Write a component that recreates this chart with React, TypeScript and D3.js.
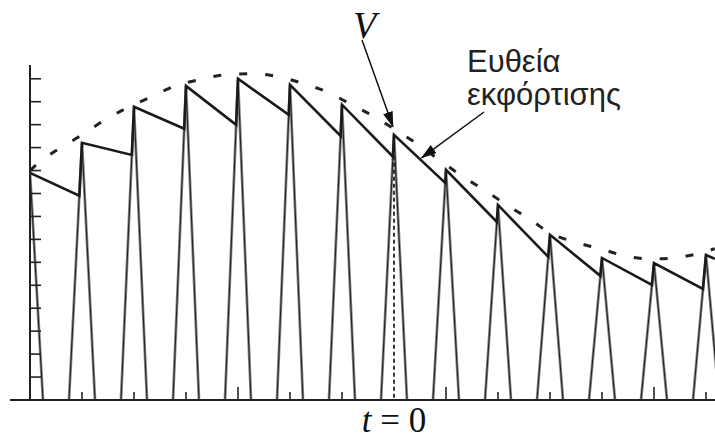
import React from 'react'
import * as d3 from 'd3'

// pulse number (one per period) and the capacitor voltage
const pulses = [0, 1, 2, 3, 4, 5, 6, 7, 8, 9, 10, 11, 12, 13]
const peakValues = [9.9, 11.21, 12.78, 13.69, 14.0, 13.74, 12.87, 11.56, 10.03, 8.5, 7.2, 6.19, 5.97, 6.32]
// value the discharge line reaches just before pulse i starts charging again
const troughValues = [null, 8.9, 10.68, 11.82, 11.99, 12.43, 11.51, 10.6, 9.46, 7.76, 6.24, 5.41, 5.02, 4.84]
const tailPoint = [13.17, 6.15]

// dashed envelope (input peaks)
const envelopeT = [0, 0.12, 0.52, 0.94, 1.38, 1.83, 2.29, 2.75, 3.25, 3.75, 4.27, 4.77, 5.27, 5.75, 6.19, 6.63, 7.08, 7.5, 7.92, 8.33, 8.79, 9.17, 9.63, 10.0, 10.54, 11.04, 11.52, 12.0, 12.54, 13.04, 13.17]
const envelopeV = [10.0, 10.25, 10.9, 11.47, 12.12, 12.69, 13.17, 13.65, 13.96, 14.17, 14.22, 14.09, 13.78, 13.39, 12.86, 12.34, 11.69, 11.08, 10.38, 9.73, 9.07, 8.5, 7.85, 7.28, 6.85, 6.54, 6.24, 6.15, 6.24, 6.5, 6.6]

const yTicks = [1, 2, 3, 4, 5, 6, 7, 8, 9, 10, 11, 12, 13, 14]
const xTicks = [1, 2, 3, 4, 5, 6, 8, 9, 10, 11, 12, 13]
const majorTicks = [4, 8, 12]
const zeroPulse = 7

const W = 715
const H = 439
const halfBase = 0.25

export default function App() {
  const x = d3.scaleLinear().domain([0, 13]).range([30, 706])
  const y = d3.scaleLinear().domain([0, 14.6]).range([400, 65])
  const line = d3.line<number[]>().x(d => x(d[0])).y(d => y(d[1]))

  // sawtooth: peak -> linear discharge -> meets rising edge of next pulse
  const saw: number[][] = []
  pulses.forEach((p, i) => {
    const t = troughValues[i]
    if (t != null) saw.push([p - halfBase * (1 - t / peakValues[i]), t])
    saw.push([p, peakValues[i]])
  })
  saw.push(tailPoint)

  const envelope = envelopeT.map((t, i) => [t, envelopeV[i]])
  const envPath = d3.line<number[]>().x(d => x(d[0])).y(d => y(d[1])).curve(d3.curveMonotoneX)(envelope)

  // annotation anchors
  const vTip = [zeroPulse - 0.02, peakValues[zeroPulse] + 0.35]
  const dTipT = 7.53
  const dTipV = 10.6 - 0.05
  const vArrowStart: [number, number] = [362, 40]
  const dArrowStart: [number, number] = [484, 112]

  return (
    <div style={{ position: 'absolute', left: 0, top: 0 }}>
      <svg width={W} height={H} style={{ display: 'block', background: '#fff' }}>
        <defs>
          <clipPath id="plot">
            <rect x={x(0)} y={0} width={W - x(0)} height={H} />
          </clipPath>
          <marker id="arrow" viewBox="0 0 16 10" refX="15" refY="5" markerWidth="16" markerHeight="10"
            markerUnits="userSpaceOnUse" orient="auto">
            <path d="M0,0 L16,5 L0,10 Z" fill="#111" />
          </marker>
        </defs>

        {/* charging pulses */}
        <g clipPath="url(#plot)">
          {pulses.map((p, i) => (
            <path key={p}
              d={line([[p - halfBase, 0], [p, peakValues[i]], [p + halfBase, 0]]) || ''}
              fill="none" stroke="#8a8a8a" strokeWidth={2.8} strokeLinejoin="miter" />
          ))}
          {pulses.map((p, i) => (
            <path key={'c' + p}
              d={line([[p - halfBase, 0], [p, peakValues[i]], [p + halfBase, 0]]) || ''}
              fill="none" stroke="#222" strokeWidth={1.1} strokeLinejoin="miter" />
          ))}
        </g>

        {/* t = 0 marker */}
        <line x1={x(zeroPulse)} x2={x(zeroPulse)} y1={y(peakValues[zeroPulse])} y2={y(0)}
          stroke="#222" strokeWidth={1.8} strokeDasharray="4 3" />

        {/* envelope */}
        <path d={envPath || ''} fill="none" stroke="#222" strokeWidth={3} strokeDasharray="8 18" />

        {/* output voltage */}
        <path d={line(saw) || ''} fill="none" stroke="#1a1a1a" strokeWidth={2.6} strokeLinejoin="miter" />

        {/* axes */}
        <line x1={10} x2={W} y1={y(0)} y2={y(0)} stroke="#222" strokeWidth={2} />
        {xTicks.map(t => (
          <line key={t} x1={x(t)} x2={x(t)} y1={y(0)} y2={y(0) - (majorTicks.includes(t) ? 13 : 8)}
            stroke="#222" strokeWidth={1.6} />
        ))}
        <line x1={x(0)} x2={x(0)} y1={y(0)} y2={y(14.6)} stroke="#222" strokeWidth={2} />
        {yTicks.map(v => (
          <line key={v} x1={x(0)} x2={x(0) + 11} y1={y(v)} y2={y(v)} stroke="#222" strokeWidth={1.6} />
        ))}

        {/* annotations */}
        <line x1={vArrowStart[0]} y1={vArrowStart[1]} x2={x(vTip[0])} y2={y(vTip[1])}
          stroke="#111" strokeWidth={1.5} markerEnd="url(#arrow)" />
        <line x1={dArrowStart[0]} y1={dArrowStart[1]} x2={x(dTipT)} y2={y(dTipV)}
          stroke="#111" strokeWidth={1.5} markerEnd="url(#arrow)" />

        <text x={353} y={38} fontFamily="Liberation Serif, serif" fontStyle="italic" fontSize={38} fill="#111">V</text>
        <text fontFamily="Liberation Sans, Arial, sans-serif" fontSize={31} fill="#222">
          <tspan x={467} y={72}>Ευθεία</tspan>
          <tspan x={467} y={105}>εκφόρτισης</tspan>
        </text>
        <text x={x(zeroPulse)} y={432} textAnchor="middle" fontFamily="Liberation Serif, serif" fontSize={35} fill="#111">
          <tspan fontStyle="italic">t</tspan> = 0
        </text>
      </svg>
    </div>
  )
}
